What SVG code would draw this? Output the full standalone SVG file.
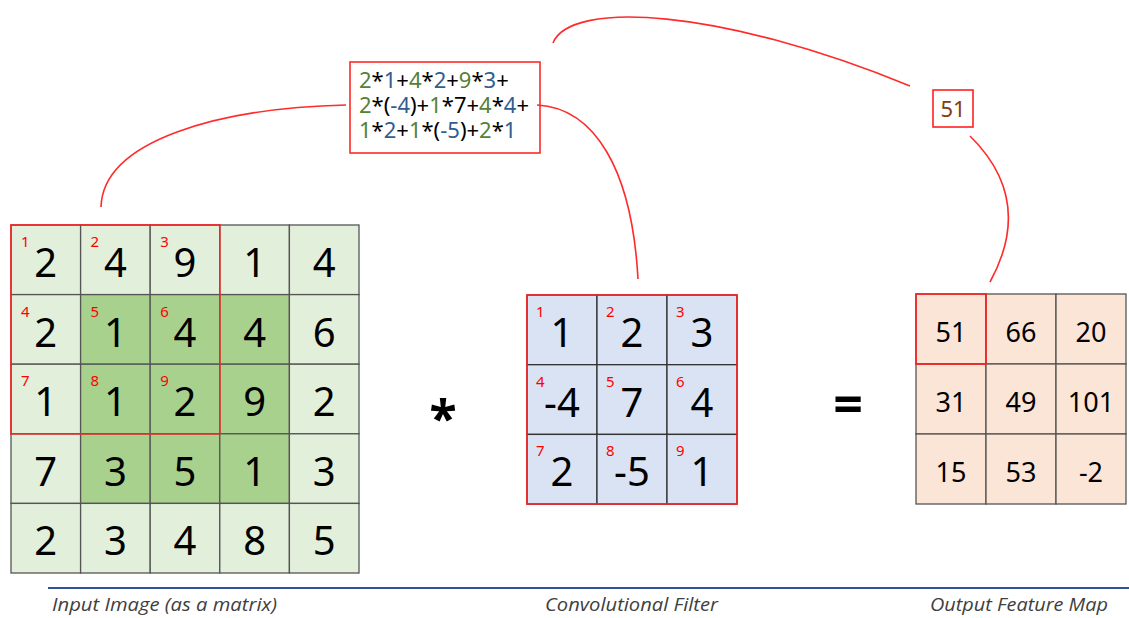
<svg xmlns="http://www.w3.org/2000/svg" width="1129" height="618" viewBox="0 0 1129 618">
<style>
.lg{fill:#e2efda;stroke:#555;stroke-width:1.3}
.dg{fill:#a9d18e;stroke:#555;stroke-width:1.3}
.bl{fill:#dae3f3;stroke:#333;stroke-width:1.3}
.pc{fill:#fbe5d6;stroke:#555;stroke-width:1.3}
.big{font-family:"Noto Sans","Open Sans",sans-serif;font-size:40px;fill:#000;text-anchor:middle}
.mid{font-family:"Noto Sans","Open Sans",sans-serif;font-size:27px;fill:#000;text-anchor:middle}
.idx{font-family:"Noto Sans","Open Sans",sans-serif;font-size:15px;fill:#ff0000}
.red{fill:none;stroke:#ff2020;stroke-width:1.6}
.con{fill:none;stroke:#ff2a2a;stroke-width:1.6}
.fm{font-family:"Noto Sans","Open Sans",sans-serif;font-size:22px;fill:#000}
.g{fill:#548235}.b{fill:#2f5e8f}
.lab{font-family:"Open Sans","Noto Sans",sans-serif;font-style:italic;font-size:18px;fill:#404040}
.op{font-family:"Noto Sans","DejaVu Sans",sans-serif;font-weight:bold;fill:#000;text-anchor:middle}
</style>

<g id="input-matrix">
<rect class="lg" x="11" y="225" width="69.6" height="69.6"/><rect class="lg" x="80.6" y="225" width="69.6" height="69.6"/><rect class="lg" x="150.2" y="225" width="69.6" height="69.6"/><rect class="lg" x="219.8" y="225" width="69.6" height="69.6"/><rect class="lg" x="289.4" y="225" width="69.6" height="69.6"/>
<rect class="lg" x="11" y="294.6" width="69.6" height="69.6"/><rect class="dg" x="80.6" y="294.6" width="69.6" height="69.6"/><rect class="dg" x="150.2" y="294.6" width="69.6" height="69.6"/><rect class="dg" x="219.8" y="294.6" width="69.6" height="69.6"/><rect class="lg" x="289.4" y="294.6" width="69.6" height="69.6"/>
<rect class="lg" x="11" y="364.2" width="69.6" height="69.6"/><rect class="dg" x="80.6" y="364.2" width="69.6" height="69.6"/><rect class="dg" x="150.2" y="364.2" width="69.6" height="69.6"/><rect class="dg" x="219.8" y="364.2" width="69.6" height="69.6"/><rect class="lg" x="289.4" y="364.2" width="69.6" height="69.6"/>
<rect class="lg" x="11" y="433.8" width="69.6" height="69.6"/><rect class="dg" x="80.6" y="433.8" width="69.6" height="69.6"/><rect class="dg" x="150.2" y="433.8" width="69.6" height="69.6"/><rect class="dg" x="219.8" y="433.8" width="69.6" height="69.6"/><rect class="lg" x="289.4" y="433.8" width="69.6" height="69.6"/>
<rect class="lg" x="11" y="503.4" width="69.6" height="69.6"/><rect class="lg" x="80.6" y="503.4" width="69.6" height="69.6"/><rect class="lg" x="150.2" y="503.4" width="69.6" height="69.6"/><rect class="lg" x="219.8" y="503.4" width="69.6" height="69.6"/><rect class="lg" x="289.4" y="503.4" width="69.6" height="69.6"/>
<text class="big" x="45.8" y="277">2</text><text class="big" x="115.4" y="277">4</text><text class="big" x="185" y="277">9</text><text class="big" x="254.6" y="277">1</text><text class="big" x="324.2" y="277">4</text>
<text class="big" x="45.8" y="346.6">2</text><text class="big" x="115.4" y="346.6">1</text><text class="big" x="185" y="346.6">4</text><text class="big" x="254.6" y="346.6">4</text><text class="big" x="324.2" y="346.6">6</text>
<text class="big" x="45.8" y="416.2">1</text><text class="big" x="115.4" y="416.2">1</text><text class="big" x="185" y="416.2">2</text><text class="big" x="254.6" y="416.2">9</text><text class="big" x="324.2" y="416.2">2</text>
<text class="big" x="45.8" y="485.8">7</text><text class="big" x="115.4" y="485.8">3</text><text class="big" x="185" y="485.8">5</text><text class="big" x="254.6" y="485.8">1</text><text class="big" x="324.2" y="485.8">3</text>
<text class="big" x="45.8" y="555.4">2</text><text class="big" x="115.4" y="555.4">3</text><text class="big" x="185" y="555.4">4</text><text class="big" x="254.6" y="555.4">8</text><text class="big" x="324.2" y="555.4">5</text>
<text class="idx" x="21" y="247">1</text><text class="idx" x="90.6" y="247">2</text><text class="idx" x="160.2" y="247">3</text>
<text class="idx" x="21" y="316.6">4</text><text class="idx" x="90.6" y="316.6">5</text><text class="idx" x="160.2" y="316.6">6</text>
<text class="idx" x="21" y="386.2">7</text><text class="idx" x="90.6" y="386.2">8</text><text class="idx" x="160.2" y="386.2">9</text>
<rect class="red" x="11" y="225" width="208.8" height="208.8"/>
</g>

<g id="multiply">
<text class="op" x="443" y="436" font-size="50">*</text>
</g>

<g id="filter">
<rect class="bl" x="527" y="295" width="70" height="69.7"/><rect class="bl" x="597" y="295" width="70" height="69.7"/><rect class="bl" x="667" y="295" width="70" height="69.7"/>
<rect class="bl" x="527" y="364.7" width="70" height="69.7"/><rect class="bl" x="597" y="364.7" width="70" height="69.7"/><rect class="bl" x="667" y="364.7" width="70" height="69.7"/>
<rect class="bl" x="527" y="434.4" width="70" height="69.7"/><rect class="bl" x="597" y="434.4" width="70" height="69.7"/><rect class="bl" x="667" y="434.4" width="70" height="69.7"/>
<text class="big" x="562" y="347">1</text><text class="big" x="632" y="347">2</text><text class="big" x="702" y="347">3</text>
<text class="big" x="562" y="416.7">-4</text><text class="big" x="632" y="416.7">7</text><text class="big" x="702" y="416.7">4</text>
<text class="big" x="562" y="486.4">2</text><text class="big" x="632" y="486.4">-5</text><text class="big" x="702" y="486.4">1</text>
<text class="idx" x="536" y="317">1</text><text class="idx" x="606" y="317">2</text><text class="idx" x="676" y="317">3</text>
<text class="idx" x="536" y="386.7">4</text><text class="idx" x="606" y="386.7">5</text><text class="idx" x="676" y="386.7">6</text>
<text class="idx" x="536" y="456.4">7</text><text class="idx" x="606" y="456.4">8</text><text class="idx" x="676" y="456.4">9</text>
<rect class="red" x="527" y="295" width="210" height="209"/>
</g>

<g id="equals">
<text class="op" x="848" y="423" font-size="52">=</text>
</g>

<g id="output">
<rect class="pc" x="916" y="294" width="70" height="70"/><rect class="pc" x="986" y="294" width="70" height="70"/><rect class="pc" x="1056" y="294" width="70" height="70"/>
<rect class="pc" x="916" y="364" width="70" height="70"/><rect class="pc" x="986" y="364" width="70" height="70"/><rect class="pc" x="1056" y="364" width="70" height="70"/>
<rect class="pc" x="916" y="434" width="70" height="70"/><rect class="pc" x="986" y="434" width="70" height="70"/><rect class="pc" x="1056" y="434" width="70" height="70"/>
<text class="mid" x="951" y="342">51</text><text class="mid" x="1021" y="342">66</text><text class="mid" x="1091" y="342">20</text>
<text class="mid" x="951" y="412">31</text><text class="mid" x="1021" y="412">49</text><text class="mid" x="1091" y="412">101</text>
<text class="mid" x="951" y="482">15</text><text class="mid" x="1021" y="482">53</text><text class="mid" x="1091" y="482">-2</text>
<rect class="red" x="916" y="294" width="70" height="70"/>
</g>

<g id="formula">
<rect x="350" y="62" width="190" height="91" fill="#fff" stroke="#ff2a2a" stroke-width="1.6"/>
<text class="fm" x="359" y="88"><tspan class="g">2</tspan>*<tspan class="b">1</tspan>+<tspan class="g">4</tspan>*<tspan class="b">2</tspan>+<tspan class="g">9</tspan>*<tspan class="b">3</tspan>+</text>
<text class="fm" x="359" y="113"><tspan class="g">2</tspan>*(<tspan class="b">-4</tspan>)+<tspan class="g">1</tspan>*7+<tspan class="g">4</tspan>*<tspan class="b">4</tspan>+</text>
<text class="fm" x="359" y="138"><tspan class="g">1</tspan>*<tspan class="b">2</tspan>+<tspan class="g">1</tspan>*(<tspan class="b">-5</tspan>)+<tspan class="g">2</tspan>*<tspan class="b">1</tspan></text>
</g>

<g id="result">
<rect x="933" y="90" width="40" height="37" fill="#fff" stroke="#ff2020" stroke-width="1.6"/>
<text x="953" y="117" font-family="Noto Sans, Open Sans, sans-serif" font-size="22" fill="#843c0c" text-anchor="middle">51</text>
</g>

<g id="connectors">
<path class="con" d="M101,207 C103,140 220,108 346,105"/>
<path class="con" d="M537,105 C595,108 632,170 638,279"/>
<path class="con" d="M553,43 C570,0 720,8 910,86"/>
<path class="con" d="M970,136 Q1035,200 990,282"/>
</g>

<g id="labels">
<line x1="48" y1="588" x2="1129" y2="588" stroke="#2f5597" stroke-width="1.8"/>
<text class="lab" x="52" y="611" textLength="225" lengthAdjust="spacingAndGlyphs">Input Image (as a matrix)</text>
<text class="lab" x="545" y="611" textLength="173" lengthAdjust="spacingAndGlyphs">Convolutional Filter</text>
<text class="lab" x="930" y="611" textLength="178" lengthAdjust="spacingAndGlyphs">Output Feature Map</text>
</g>
</svg>
